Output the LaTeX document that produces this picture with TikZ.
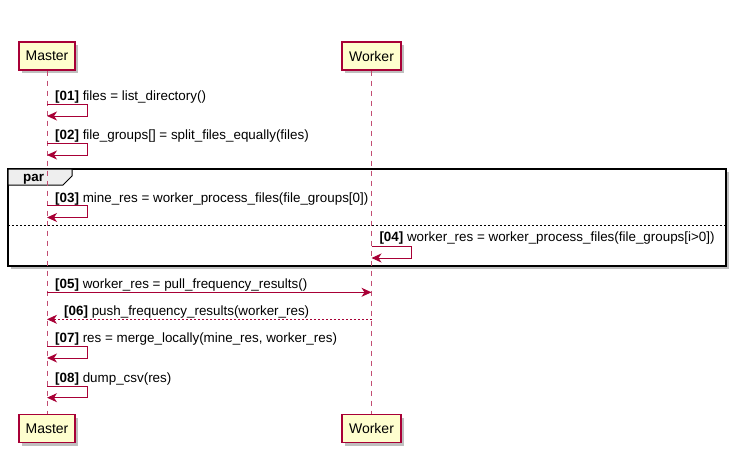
\documentclass[tikz,border=0pt]{standalone}
\usepackage{fontspec}
\setmainfont{Liberation Sans}
\usetikzlibrary{arrows.meta,shadows}
\definecolor{pred}{HTML}{A80036}
\definecolor{pyel}{HTML}{FEFECE}
\definecolor{ptab}{HTML}{EEEEEE}
\begin{document}
\begin{tikzpicture}[x=1pt,y=-1pt,
  part/.style={draw=pred, fill=pyel, line width=1.2pt, minimum width=#1, minimum height=28pt, inner sep=0pt,
    font=\fontsize{14}{16}\selectfont,
    drop shadow={shadow xshift=3pt, shadow yshift=-3pt, fill=black, opacity=0.25}},
  life/.style={draw=pred!70, line width=0.9pt, dash pattern=on 5pt off 5pt},
  msg/.style={draw=pred, line width=1pt, -{Stealth[length=10pt,width=9pt,inset=3pt]}},
  reply/.style={msg, dash pattern=on 2pt off 2pt},
  lbl/.style={anchor=base west, inner sep=0pt, font=\fontsize{13.4}{15}\selectfont},
  framebox/.style={draw=black, line width=1.5pt, fill=white,
    drop shadow={shadow xshift=3pt, shadow yshift=-3pt, fill=black, opacity=0.25}},
  tabbox/.style={draw=black, line width=1pt, fill=ptab},
  sep/.style={draw=black, line width=0.8pt, dash pattern=on 2pt off 2pt},
]
\useasboundingbox (0,0) rectangle (732,466);

% par frame
\draw[framebox] (8,169) rectangle (726,266);
\draw[tabbox] (8,169) -- (72,169) -- (72,176) -- (63,185) -- (8,185) -- cycle;
\node[lbl, font=\bfseries\fontsize{13.4}{15}\selectfont] (partxt) at (23,181.5) {par};
\draw[sep] (8,225.7) -- (726,225.7);

% participants
\node[part=56pt] (mtop) at (47,56) {Master};
\node[part=59pt] (wtop) at (371.5,56) {Worker};
\node[part=56pt] (mbot) at (47,428.5) {Master};
\node[part=59pt] (wbot) at (371.5,428.5) {Worker};

\draw[life] (mtop.south) -- (mbot.north);
\draw[life] (wtop.south) -- (wbot.north);

% coordinates on lifelines
\coordinate (a1) at (47,104);   \coordinate (b1) at (47,116);
\coordinate (a2) at (47,143);   \coordinate (b2) at (47,155);
\coordinate (a3) at (47,205.7); \coordinate (b3) at (47,217.5);
\coordinate (a4) at (371.5,246);\coordinate (b4) at (371.5,258);
\coordinate (m5) at (47,292.3); \coordinate (w5) at (371.5,292.3);
\coordinate (m6) at (47,319.3); \coordinate (w6) at (371.5,319.3);
\coordinate (a7) at (47,346.5); \coordinate (b7) at (47,358);
\coordinate (a8) at (47,386);   \coordinate (b8) at (47,397.7);

% messages
\draw[msg] (a1) -- ++(40,0) -- ++(0,12) -- (b1);
\node[lbl] (t1) at (55,100) {\textbf{[01]} files = list\_directory()};

\draw[msg] (a2) -- ++(40,0) -- ++(0,12) -- (b2);
\node[lbl] (t2) at (55,139.5) {\textbf{[02]} file\_groups[] = split\_files\_equally(files)};

\draw[msg] (a3) -- ++(40,0) -- ++(0,11.8) -- (b3);
\node[lbl] (t3) at (55,202) {\textbf{[03]} mine\_res = worker\_process\_files(file\_groups[0])};

\draw[msg] (a4) -- ++(40,0) -- ++(0,12) -- (b4);
\node[lbl] (t4) at (379.3,241.7) {\textbf{[04]} worker\_res = worker\_process\_files(file\_groups[i>0])};

\draw[msg] (m5) -- (w5);
\node[lbl] (t5) at (55,288.5) {\textbf{[05]} worker\_res = pull\_frequency\_results()};

\draw[reply] (w6) -- (m6);
\node[lbl] (t6) at (64,315.5) {\textbf{[06]} push\_frequency\_results(worker\_res)};

\draw[msg] (a7) -- ++(40,0) -- ++(0,11.5) -- (b7);
\node[lbl] (t7) at (55,342.3) {\textbf{[07]} res = merge\_locally(mine\_res, worker\_res)};

\draw[msg] (a8) -- ++(40,0) -- ++(0,11.7) -- (b8);
\node[lbl] (t8) at (55,382.3) {\textbf{[08]} dump\_csv(res)};
\end{tikzpicture}
\end{document}
